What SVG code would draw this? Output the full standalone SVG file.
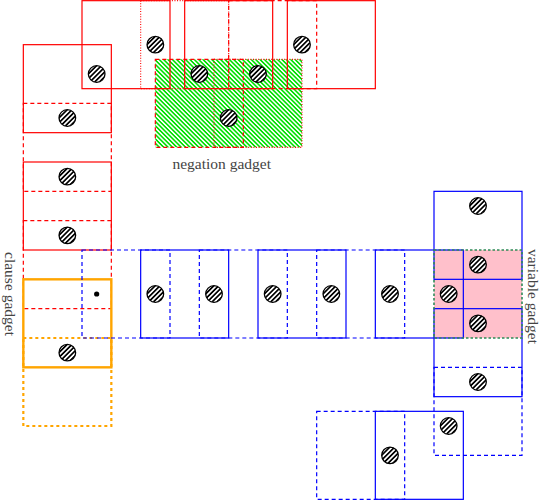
<svg xmlns="http://www.w3.org/2000/svg" width="540" height="501" viewBox="0 0 540 501">
<style>
.r{fill:none;stroke:#ff0000;stroke-width:1.2}
.rd{fill:none;stroke:#ff0000;stroke-width:1.2;stroke-dasharray:4,3}
.rt{fill:none;stroke:#ff0000;stroke-width:1.1;stroke-dasharray:1,1.6}
.b{fill:none;stroke:#0000ff;stroke-width:1.2}
.bd{fill:none;stroke:#0000ff;stroke-width:1.2;stroke-dasharray:4,3}
.o{fill:none;stroke:#ffa500;stroke-width:2.4}
.od{fill:none;stroke:#ffa500;stroke-width:2.2;stroke-dasharray:3,3}
.gd{fill:none;stroke:#2e8b57;stroke-width:1.6;stroke-dasharray:2.5,2}
.lbl{font-family:"Liberation Serif","DejaVu Serif",serif;font-size:15.5px;fill:#444}
</style>
<defs>
<pattern id="ch" patternUnits="userSpaceOnUse" width="3.4" height="3.4" patternTransform="rotate(-45)">
<rect width="3.4" height="3.4" fill="#fff"/><rect width="3.4" height="1.7" fill="#000"/>
</pattern>
<pattern id="gh" patternUnits="userSpaceOnUse" width="3.1" height="3.1" patternTransform="rotate(45)">
<rect width="3.1" height="3.1" fill="#fff"/><rect width="3.1" height="1.6" fill="#00e000"/>
</pattern>
<circle id="hc" r="8.3" fill="url(#ch)" stroke="#000" stroke-width="1.3"/>
</defs>

<g id="negation-gadget">
<rect x="155.33" y="59.33" width="146.67" height="88" fill="url(#gh)"/>
<rect class="r" x="82" y="0.67" width="88" height="88"/>
<rect class="rt" x="140.67" y="0.67" width="88" height="88"/>
<rect class="r" x="184.67" y="0.67" width="88" height="88"/>
<rect class="rd" x="228.67" y="0.67" width="88" height="88"/>
<rect class="r" x="287.33" y="0.67" width="88" height="88"/>
<rect class="rd" x="155.33" y="59.33" width="88" height="88"/>
<rect class="rt" x="214" y="59.33" width="88" height="88"/>
<use href="#hc" x="155.33" y="44.67"/>
<use href="#hc" x="96.67" y="74"/>
<use href="#hc" x="199.33" y="74"/>
<use href="#hc" x="258" y="74"/>
<use href="#hc" x="302" y="44.67"/>
<use href="#hc" x="228.67" y="118"/>
<text class="lbl" x="221.7" y="168.5" text-anchor="middle">negation gadget</text>
</g>

<g id="clause-gadget">
<rect class="r" x="23.33" y="44.67" width="88" height="88"/>
<rect class="rd" x="23.33" y="103.33" width="88" height="88"/>
<rect class="r" x="23.33" y="162" width="88" height="88"/>
<rect class="rd" x="23.33" y="220.67" width="88" height="88"/>
<rect class="od" x="23.33" y="338" width="88" height="88"/>
<rect class="o" x="23.33" y="279.33" width="88" height="88"/>
<use href="#hc" x="67.33" y="118"/>
<use href="#hc" x="67.33" y="176.67"/>
<use href="#hc" x="67.33" y="235.33"/>
<use href="#hc" x="67.33" y="352.67"/>
<circle cx="96.67" cy="294" r="2.6" fill="#000"/>
<text class="lbl" transform="translate(4.5,294) rotate(90)" text-anchor="middle">clause gadget</text>
</g>

<g id="variable-row">
<rect class="bd" x="82" y="250" width="88" height="88"/>
<rect class="bd" x="199.33" y="250" width="88" height="88"/>
<rect class="bd" x="316.67" y="250" width="88" height="88"/>
<rect class="b" x="140.67" y="250" width="88" height="88"/>
<rect class="b" x="258" y="250" width="88" height="88"/>
<use href="#hc" x="155.33" y="294"/>
<use href="#hc" x="214" y="294"/>
<use href="#hc" x="272.67" y="294"/>
<use href="#hc" x="331.33" y="294"/>
</g>

<g id="variable-gadget">
<rect x="434" y="250" width="88" height="88" fill="#ffc0cb"/>
<rect class="b" x="375.33" y="250" width="88" height="88"/>
<rect class="b" x="434" y="191.33" width="88" height="88"/>
<rect class="b" x="434" y="308.67" width="88" height="88"/>
<rect class="bd" x="434" y="367.33" width="88" height="88"/>
<rect class="gd" x="434" y="250" width="88" height="88"/>
<use href="#hc" x="390" y="294"/>
<use href="#hc" x="448.67" y="294"/>
<use href="#hc" x="478" y="206"/>
<use href="#hc" x="478" y="264.67"/>
<use href="#hc" x="478" y="323.33"/>
<use href="#hc" x="478" y="382"/>
<text class="lbl" transform="translate(527.5,296.5) rotate(90)" text-anchor="middle">variable gadget</text>
</g>

<g id="bottom-gadget">
<rect class="bd" x="316.67" y="411.33" width="88" height="88"/>
<rect class="b" x="375.33" y="411.33" width="88" height="88"/>
<use href="#hc" x="390" y="455.33"/>
<use href="#hc" x="448.67" y="426"/>
</g>
</svg>
